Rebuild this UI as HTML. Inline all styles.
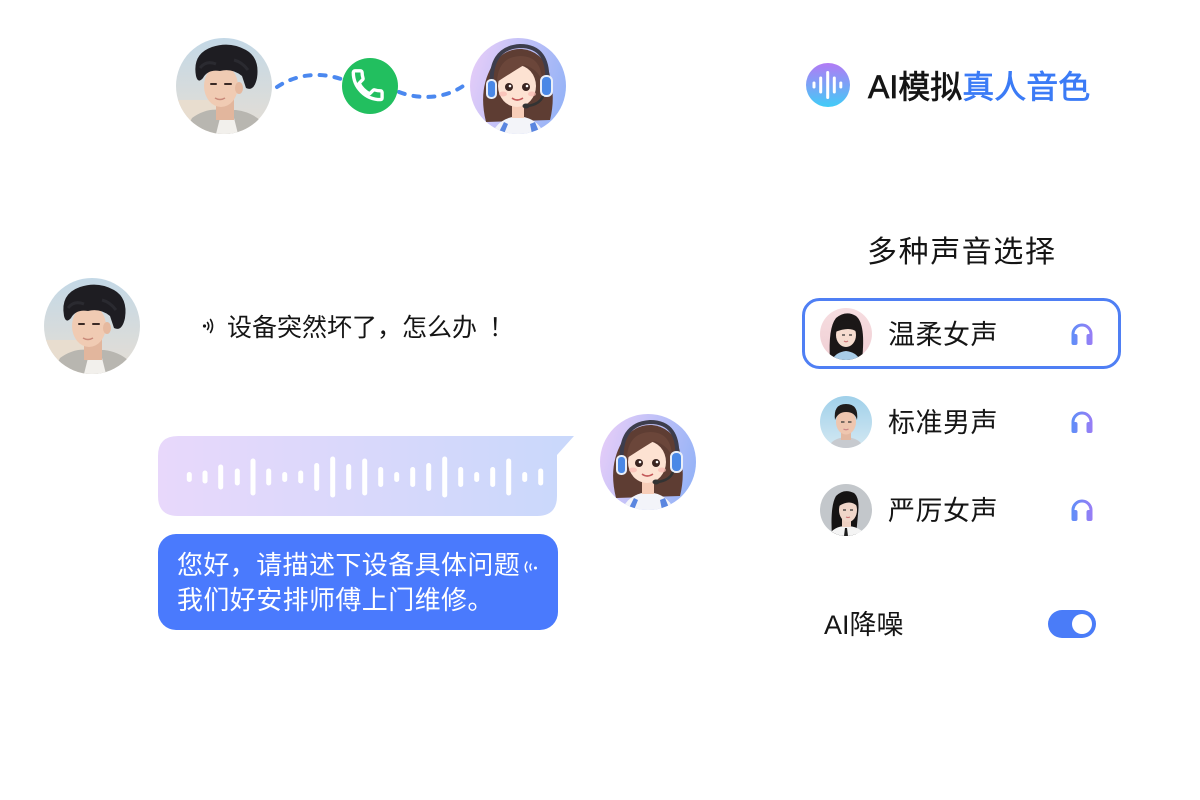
<!DOCTYPE html>
<html><head><meta charset="utf-8">
<style>
html,body{margin:0;padding:0;background:#fff;}
body{width:1200px;height:800px;position:relative;overflow:hidden;font-family:"Liberation Sans","Noto Sans CJK SC",sans-serif;}
.t{position:absolute;white-space:nowrap;font-family:"Liberation Sans","Noto Sans CJK SC",sans-serif;color:#151515;}
svg{position:absolute;left:0;top:0;}
</style></head><body>
<svg width="1200" height="800" viewBox="0 0 1200 800">
<defs>
 <clipPath id="c1"><circle cx="48" cy="48" r="48"/></clipPath>
 <clipPath id="c2"><circle cx="26" cy="26" r="26"/></clipPath>
 <linearGradient id="manbg" x1="0" y1="0" x2="0" y2="1"><stop offset="0" stop-color="#c3d8e6"/><stop offset="1" stop-color="#e6ded4"/></linearGradient>
 <linearGradient id="girlbg" x1="0" y1="0.2" x2="1" y2="0.5"><stop offset="0" stop-color="#e6cdf8"/><stop offset="1" stop-color="#98b4f7"/></linearGradient>
 <linearGradient id="wave" x1="0" y1="0" x2="1" y2="0"><stop offset="0" stop-color="#e8d8fb"/><stop offset="1" stop-color="#c9d8fb"/></linearGradient>
 <linearGradient id="logo" x1="0" y1="0" x2="0" y2="1"><stop offset="0" stop-color="#b27af5"/><stop offset="1" stop-color="#41ccf7"/></linearGradient>
 <linearGradient id="hp" gradientUnits="userSpaceOnUse" x1="0" y1="0" x2="24" y2="0"><stop offset="0" stop-color="#5a8ff8"/><stop offset="1" stop-color="#9d7cf5"/></linearGradient>
 <linearGradient id="w1bg" x1="0" y1="0" x2="0" y2="1"><stop offset="0" stop-color="#f6dde0"/><stop offset="1" stop-color="#f0cfd4"/></linearGradient>
 <linearGradient id="m2bg" x1="0" y1="0" x2="0" y2="1"><stop offset="0" stop-color="#9fd0ea"/><stop offset="1" stop-color="#d3e8f2"/></linearGradient>
</defs>

<!-- dashed connectors -->
<path d="M277,87 C298,73 322,72 344,80" fill="none" stroke="#4b88ef" stroke-width="4" stroke-linecap="round" stroke-dasharray="6 9"/>
<path d="M399,92 C420,100 446,99 466,84" fill="none" stroke="#4b88ef" stroke-width="4" stroke-linecap="round" stroke-dasharray="6 9"/>

<!-- man avatar top -->
<g transform="translate(176,38)">
 <g clip-path="url(#c1)">
  <rect width="96" height="96" fill="url(#manbg)"/>
  <rect x="0" y="62" width="40" height="34" fill="#e8ddcf"/>
  <path d="M8,96 L16,80 Q30,70 44,72 L60,72 Q76,74 86,84 L94,96 Z" fill="#b8b6b0"/>
  <path d="M40,96 L44,80 L58,80 L62,96 Z" fill="#f2f0ec"/>
  <rect x="40" y="58" width="18" height="24" fill="#e2b69d"/>
  <ellipse cx="45" cy="48" rx="17" ry="21" fill="#f0cbb3"/>
  <ellipse cx="63" cy="50" rx="4" ry="6" fill="#e6b99f"/>
  <path d="M20,38 Q16,16 36,9 Q54,3 70,12 Q84,20 81,40 Q78,54 70,50 L66,38 Q56,30 44,33 Q32,31 27,40 Q22,46 20,38 Z" fill="#1e1d22"/>
  <path d="M24,30 Q30,22 40,26 M58,22 Q66,24 72,32" stroke="#2a2a30" stroke-width="3" fill="none"/>
  <path d="M35,46 L40,46 M49,46 L55,46" stroke="#3a2a25" stroke-width="2" stroke-linecap="round"/>
  <path d="M39,60 Q44,63 49,60" stroke="#c98a7a" stroke-width="1.5" fill="none"/>
 </g>
</g>

<!-- phone -->
<circle cx="370" cy="86" r="28" fill="#22bf5f"/>
<g transform="translate(348.5,66) scale(1.6)">
 <path d="M6.62 10.79c1.44 2.83 3.76 5.14 6.59 6.59l2.2-2.2c.27-.27.67-.36 1.02-.24 1.12.37 2.330.57 3.570.57.55 0 1 .45 1 1V20c0 .55-.45 1-1 1-9.39 0-17-7.61-17-17 0-.55.45-1 1-1h3.5c.55 0 1 .45 1 1 0 1.25.2 2.45.57 3.57.11.35.03.74-.25 1.02l-2.2 2.2z" fill="none" stroke="#fff" stroke-width="2.1" stroke-linejoin="round"/>
</g>

<!-- girl avatar top -->
<g transform="translate(470,38)">
 <g clip-path="url(#c1)">
  <rect width="96" height="96" fill="url(#girlbg)"/>
  <path d="M16,84 Q8,52 22,28 Q34,10 52,11 Q72,13 79,34 Q86,58 80,82 Z" fill="#5e3d33"/>
  <path d="M22,96 Q28,80 48,78 Q68,80 74,96 Z" fill="#f3f4f9"/>
  <path d="M28,96 L34,84 L38,86 L34,96 Z M62,96 L60,86 L65,84 L70,96 Z" fill="#5a86e0"/>
  <rect x="42" y="62" width="12" height="18" fill="#f7cdb8"/>
  <ellipse cx="47" cy="48" rx="19" ry="21" fill="#fde2d2"/>
  <path d="M27,44 Q28,19 50,18 Q71,18 72,42 Q66,30 54,27 Q44,33 27,44 Z" fill="#6b463a"/>
  <circle cx="39" cy="49" r="4" fill="#3a2420"/><circle cx="56" cy="49" r="4" fill="#3a2420"/>
  <circle cx="40" cy="48" r="1.3" fill="#fff"/><circle cx="57" cy="48" r="1.3" fill="#fff"/>
  <path d="M42,60 Q47,64 53,60" stroke="#c45a5a" stroke-width="1.6" fill="none"/>
  <ellipse cx="33" cy="56" rx="4" ry="2.5" fill="#f8b9b0" opacity="0.7"/><ellipse cx="62" cy="56" rx="4" ry="2.5" fill="#f8b9b0" opacity="0.7"/>
  <path d="M22,52 Q18,10 50,8 Q80,8 77,46" stroke="#3d3d4c" stroke-width="4" fill="none"/>
  <rect x="71" y="38" width="11" height="20" rx="5" fill="#4a88e6" stroke="#e9eef8" stroke-width="2"/>
  <rect x="17" y="42" width="9" height="18" rx="4" fill="#4a88e6" stroke="#e9eef8" stroke-width="2"/>
  <path d="M73,58 Q70,66 58,68" stroke="#333" stroke-width="2.5" fill="none"/>
  <ellipse cx="56" cy="68" rx="3.5" ry="2.5" fill="#333"/>
 </g>
</g>

<!-- logo icon -->
<circle cx="828" cy="85" r="22" fill="url(#logo)"/>
<g fill="#fff">
 <rect x="812.5" y="81.5" width="3" height="7" rx="1.5"/>
 <rect x="819.2" y="76.5" width="3" height="17" rx="1.5"/>
 <rect x="826.2" y="71" width="3" height="28" rx="1.5"/>
 <rect x="832.8" y="76.5" width="3" height="17" rx="1.5"/>
 <rect x="839.3" y="81.5" width="3" height="7" rx="1.5"/>
</g>

<!-- man avatar left -->
<g transform="translate(44,278)">
 <g clip-path="url(#c1)">
  <rect width="96" height="96" fill="url(#manbg)"/>
  <rect x="0" y="62" width="40" height="34" fill="#e8ddcf"/>
  <path d="M8,96 L16,80 Q30,70 44,72 L60,72 Q76,74 86,84 L94,96 Z" fill="#b8b6b0"/>
  <path d="M40,96 L44,80 L58,80 L62,96 Z" fill="#f2f0ec"/>
  <rect x="40" y="58" width="18" height="24" fill="#e2b69d"/>
  <ellipse cx="45" cy="48" rx="17" ry="21" fill="#f0cbb3"/>
  <ellipse cx="63" cy="50" rx="4" ry="6" fill="#e6b99f"/>
  <path d="M20,38 Q16,16 36,9 Q54,3 70,12 Q84,20 81,40 Q78,54 70,50 L66,38 Q56,30 44,33 Q32,31 27,40 Q22,46 20,38 Z" fill="#1e1d22"/>
  <path d="M24,30 Q30,22 40,26 M58,22 Q66,24 72,32" stroke="#2a2a30" stroke-width="3" fill="none"/>
  <path d="M35,46 L40,46 M49,46 L55,46" stroke="#3a2a25" stroke-width="2" stroke-linecap="round"/>
  <path d="M39,60 Q44,63 49,60" stroke="#c98a7a" stroke-width="1.5" fill="none"/>
 </g>
</g>

<!-- voice icon left -->
<circle cx="204.5" cy="326" r="1.6" fill="#151515"/>
<path d="M207.5,322.5 Q210,326 207.5,329.5" stroke="#151515" stroke-width="1.6" fill="none" stroke-linecap="round"/>
<path d="M210.5,319.5 Q214.5,326 210.5,332.5" stroke="#151515" stroke-width="1.6" fill="none" stroke-linecap="round"/>

<!-- waveform bubble -->
<path d="M178,436 H574 L557,455 V496 Q557,516 537,516 H178 Q158,516 158,496 V456 Q158,436 178,436 Z" fill="url(#wave)"/>
<g fill="#fff">
 <rect x="186.8" y="472" width="5" height="10" rx="2.5"/>
 <rect x="202.5" y="470.5" width="5" height="13" rx="2.5"/>
 <rect x="218.2" y="464.5" width="5" height="25" rx="2.5"/>
 <rect x="234.8" y="468.5" width="5" height="17" rx="2.5"/>
 <rect x="250.5" y="458.5" width="5" height="37" rx="2.5"/>
 <rect x="266.2" y="468.5" width="5" height="17" rx="2.5"/>
 <rect x="282.2" y="472" width="5" height="10" rx="2.5"/>
 <rect x="298.2" y="470.5" width="5" height="13" rx="2.5"/>
 <rect x="314.2" y="463" width="5" height="28" rx="2.5"/>
 <rect x="330.2" y="456.5" width="5" height="41" rx="2.5"/>
 <rect x="346.2" y="464" width="5" height="26" rx="2.5"/>
 <rect x="362.2" y="458.5" width="5" height="37" rx="2.5"/>
 <rect x="378.2" y="467" width="5" height="20" rx="2.5"/>
 <rect x="394.2" y="472" width="5" height="10" rx="2.5"/>
 <rect x="410.2" y="467" width="5" height="20" rx="2.5"/>
 <rect x="426.2" y="463" width="5" height="28" rx="2.5"/>
 <rect x="442.2" y="456.5" width="5" height="41" rx="2.5"/>
 <rect x="458.2" y="467" width="5" height="20" rx="2.5"/>
 <rect x="474.2" y="472" width="5" height="10" rx="2.5"/>
 <rect x="490.2" y="467" width="5" height="20" rx="2.5"/>
 <rect x="506.2" y="458.5" width="5" height="37" rx="2.5"/>
 <rect x="522.2" y="472" width="5" height="10" rx="2.5"/>
 <rect x="538.2" y="468.5" width="5" height="17" rx="2.5"/>
</g>

<!-- girl avatar right of bubble -->
<g transform="translate(600,414)">
 <g clip-path="url(#c1)">
  <rect width="96" height="96" fill="url(#girlbg)"/>
  <path d="M16,84 Q8,52 22,28 Q34,10 52,11 Q72,13 79,34 Q86,58 80,82 Z" fill="#5e3d33"/>
  <path d="M22,96 Q28,80 48,78 Q68,80 74,96 Z" fill="#f3f4f9"/>
  <path d="M28,96 L34,84 L38,86 L34,96 Z M62,96 L60,86 L65,84 L70,96 Z" fill="#5a86e0"/>
  <rect x="42" y="62" width="12" height="18" fill="#f7cdb8"/>
  <ellipse cx="47" cy="48" rx="19" ry="21" fill="#fde2d2"/>
  <path d="M27,44 Q28,19 50,18 Q71,18 72,42 Q66,30 54,27 Q44,33 27,44 Z" fill="#6b463a"/>
  <circle cx="39" cy="49" r="4" fill="#3a2420"/><circle cx="56" cy="49" r="4" fill="#3a2420"/>
  <circle cx="40" cy="48" r="1.3" fill="#fff"/><circle cx="57" cy="48" r="1.3" fill="#fff"/>
  <path d="M42,60 Q47,64 53,60" stroke="#c45a5a" stroke-width="1.6" fill="none"/>
  <ellipse cx="33" cy="56" rx="4" ry="2.5" fill="#f8b9b0" opacity="0.7"/><ellipse cx="62" cy="56" rx="4" ry="2.5" fill="#f8b9b0" opacity="0.7"/>
  <path d="M22,52 Q18,10 50,8 Q80,8 77,46" stroke="#3d3d4c" stroke-width="4" fill="none"/>
  <rect x="71" y="38" width="11" height="20" rx="5" fill="#4a88e6" stroke="#e9eef8" stroke-width="2"/>
  <rect x="17" y="42" width="9" height="18" rx="4" fill="#4a88e6" stroke="#e9eef8" stroke-width="2"/>
  <path d="M73,58 Q70,66 58,68" stroke="#333" stroke-width="2.5" fill="none"/>
  <ellipse cx="56" cy="68" rx="3.5" ry="2.5" fill="#333"/>
 </g>
</g>

<!-- blue bubble -->
<rect x="158" y="534" width="400" height="96" rx="18" fill="#4a7afd"/>
<path d="M527,562 Q523.5,567 527,572" stroke="#fff" stroke-width="1.5" fill="none" stroke-linecap="round"/>
<path d="M531,564 Q529,567 531,570" stroke="#fff" stroke-width="1.5" fill="none" stroke-linecap="round"/>
<circle cx="535.5" cy="568" r="1.5" fill="#fff"/>

<!-- selected card -->
<rect x="803.5" y="299.5" width="316" height="68" rx="16" fill="#fff" stroke="#4f7ff4" stroke-width="3"/>

<!-- small avatar 1: gentle female -->
<g transform="translate(820,308)">
 <g clip-path="url(#c2)">
  <rect width="52" height="52" fill="url(#w1bg)"/>
  <path d="M10,52 Q8,20 16,10 Q26,2 36,8 Q46,16 42,52 Z" fill="#1b1717"/>
  <path d="M12,52 Q16,44 26,43 Q36,44 40,52 Z" fill="#a9cde8"/>
  <ellipse cx="26" cy="27" rx="10" ry="12" fill="#f6dccf"/>
  <path d="M15,24 Q17,12 27,12 Q36,13 37,24 Q30,18 15,24 Z" fill="#1b1717"/>
  <path d="M22,27 h3 M29,27 h3" stroke="#333" stroke-width="1.2"/>
  <path d="M24,33 Q26,34.5 28,33" stroke="#d27a7a" stroke-width="1.2" fill="none"/>
 </g>
</g>
<!-- small avatar 2: male -->
<g transform="translate(820,396)">
 <g clip-path="url(#c2)">
  <rect width="52" height="52" fill="url(#m2bg)"/>
  <path d="M8,52 Q12,42 26,41 Q40,42 44,52 Z" fill="#c7cacf"/>
  <rect x="21" y="34" width="10" height="10" fill="#e2b8a1"/>
  <ellipse cx="26" cy="26" rx="10" ry="12.5" fill="#eec6af"/>
  <path d="M15,24 Q13,8 26,8 Q39,8 37,24 Q35,16 26,16 Q18,16 15,24 Z" fill="#1f1c1c"/>
  <path d="M21,26 h3.5 M28,26 h3.5" stroke="#333" stroke-width="1.3"/>
  <path d="M23.5,33 Q26,34.5 28.5,33" stroke="#c88" stroke-width="1.2" fill="none"/>
 </g>
</g>
<!-- small avatar 3: stern female -->
<g transform="translate(820,484)">
 <g clip-path="url(#c2)">
  <rect width="52" height="52" fill="#c3c7cb"/>
  <path d="M12,52 Q10,22 16,12 Q24,4 34,9 Q40,14 38,30 L36,52 Z" fill="#151313"/>
  <path d="M8,52 Q14,42 26,42 Q40,42 46,52 Z" fill="#f4f4f4"/>
  <path d="M25,44 L27,44 L28,52 L24,52 Z" fill="#1c1c1c"/>
  <rect x="22" y="34" width="9" height="9" fill="#edd0c2"/>
  <ellipse cx="28" cy="26" rx="9" ry="12" fill="#f0d6c9"/>
  <path d="M19,22 Q20,11 29,11 Q37,12 37,22 Q30,15 19,22 Z" fill="#151313"/>
  <path d="M23,26 h3 M30,26 h3" stroke="#333" stroke-width="1.2"/>
  <path d="M26,33 Q28,34 30,33" stroke="#c77" stroke-width="1.2" fill="none"/>
 </g>
</g>

<!-- headphone icons -->
<g transform="translate(1070,322)">
 <path d="M3,14 V12 A9,9 0 0 1 21,12 V14" stroke="url(#hp)" stroke-width="3" fill="none"/>
 <rect x="1.5" y="12" width="6" height="11" rx="2" fill="url(#hp)"/>
 <rect x="16.5" y="12" width="6" height="11" rx="2" fill="url(#hp)"/>
</g>
<g transform="translate(1070,410)">
 <path d="M3,14 V12 A9,9 0 0 1 21,12 V14" stroke="url(#hp)" stroke-width="3" fill="none"/>
 <rect x="1.5" y="12" width="6" height="11" rx="2" fill="url(#hp)"/>
 <rect x="16.5" y="12" width="6" height="11" rx="2" fill="url(#hp)"/>
</g>
<g transform="translate(1070,498)">
 <path d="M3,14 V12 A9,9 0 0 1 21,12 V14" stroke="url(#hp)" stroke-width="3" fill="none"/>
 <rect x="1.5" y="12" width="6" height="11" rx="2" fill="url(#hp)"/>
 <rect x="16.5" y="12" width="6" height="11" rx="2" fill="url(#hp)"/>
</g>

<!-- toggle -->
<rect x="1048" y="610" width="48" height="28" rx="14" fill="#4a7cf8"/>
<circle cx="1082" cy="624" r="10" fill="#fff"/>
</svg>

<div class="t" style="left:868px;top:66px;font-size:32px;line-height:42px;-webkit-text-stroke:0.7px #151515;">AI模拟<span style="color:#3b7bf6;-webkit-text-stroke:0.7px #3b7bf6;">真人音色</span></div>
<div class="t" style="left:867px;top:233px;font-size:30px;line-height:40px;letter-spacing:1.6px;">多种声音选择</div>
<div class="t" style="left:227px;top:311px;font-size:25px;line-height:34px;">设备突然坏了，怎么办<span style="position:relative;left:12px;">！</span></div>
<div class="t" style="left:177px;top:548px;font-size:26px;line-height:35px;letter-spacing:0.4px;color:#fff;">您好，请描述下设备具体问题<br>我们好安排师傅上门维修。</div>
<div class="t" style="left:888px;top:317px;font-size:27px;line-height:36px;letter-spacing:0.5px;">温柔女声</div>
<div class="t" style="left:888px;top:405px;font-size:27px;line-height:36px;letter-spacing:0.5px;">标准男声</div>
<div class="t" style="left:888px;top:493px;font-size:27px;line-height:36px;letter-spacing:0.5px;">严厉女声</div>
<div class="t" style="left:824px;top:607px;font-size:27px;line-height:36px;">AI降噪</div>
</body></html>
